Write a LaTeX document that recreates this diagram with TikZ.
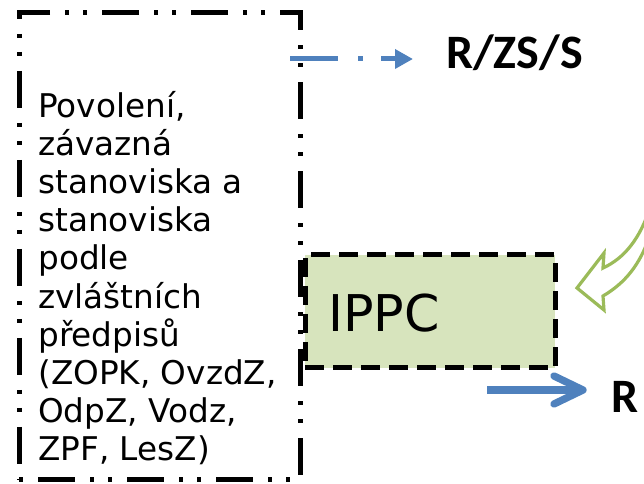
\documentclass[tikz,border=0pt]{standalone}
\usepackage{fontspec}
\setmainfont{DejaVu Sans}
\newfontfamily\calibrifont{Carlito}
\usetikzlibrary{arrows.meta}
\definecolor{blueA}{HTML}{4F81BD}
\definecolor{greenA}{HTML}{9BBB59}
\definecolor{greenF}{HTML}{D7E4BD}
\begin{document}
\begin{tikzpicture}[x=0.75pt,y=-0.75pt,
  permbox/.style={draw=black, line width=3.75pt, inner sep=0pt,
    dash pattern=on 27.75pt off 11.25pt on 3pt off 10.5pt on 3pt off 11.25pt,
    dash phase=52.5pt, minimum width=210.75pt, minimum height=350.25pt},
  ippcbox/.style={draw=black, fill=greenF, line width=3.75pt, inner sep=0pt,
    dash pattern=on 14pt off 7pt, minimum width=187.5pt, minimum height=84.75pt},
  bodytext/.style={inner sep=0pt, align=left, font=\fontsize{24.5pt}{28.6pt}\selectfont},
  bigtext/.style={inner sep=0pt, font=\fontsize{38pt}{44pt}\selectfont},
  boldlabel/.style={inner sep=0pt, font=\calibrifont\bfseries\fontsize{36pt}{42pt}\selectfont},
  bluearrow/.style={draw=blueA, line width=3.75pt},
  greenarrow/.style={draw=greenA, line width=2.4pt, line join=miter}
]
\useasboundingbox (0,0) rectangle (644,484);
% left dash-dot-dot box
\node[permbox] (perm) at (159.5,246.5) {};
\node[bodytext, anchor=north west] (txt) at (38,91)
  {Povolení,\\závazná\\stanoviska a\\stanoviska\\podle\\zvláštních\\předpisů\\(ZOPK, OvzdZ,\\OdpZ, Vodz,\\ZPF, LesZ)};
% IPPC box
\node[ippcbox] (ippc) at (430,311.5) {};
\node[bigtext, anchor=base west] (ippclbl) at (328,332) {IPPC};
% labels
\node[boldlabel, anchor=base west] (rzs) at (446,69) {R/ZS/S};
\node[boldlabel, anchor=base west] (r) at (611,413) {R};
% top dash-dot arrow
\coordinate (a1) at (290,59);
\coordinate (a2) at (413,59);
\draw[bluearrow, dash pattern=on 36pt off 15pt on 3.75pt off 13.5pt,
  -{Triangle[length=13.5pt,width=14pt]}] (a1) -- (a2);
% bottom arrow with open head
\coordinate (b1) at (487,390);
\coordinate (b2) at (583,390);
\draw[bluearrow, line width=5.5pt] (b1) -- ([xshift=-2pt]b2);
\draw[bluearrow, line width=5.5pt, line cap=round, line join=round]
  (554,376) -- (b2) -- (554,404);
% green curved block arrow (clipped by page edge)
\begin{scope}
\clip (0,0) rectangle (644,484);
\draw[greenarrow] (577,288) -- (604,253) -- (603,268)
  .. controls (625,258) and (640,238) .. (650,208)
  -- (650,235)
  .. controls (640,265) and (625,283) .. (603,296)
  -- (604,310) -- cycle;
\end{scope}
\end{tikzpicture}
\end{document}
